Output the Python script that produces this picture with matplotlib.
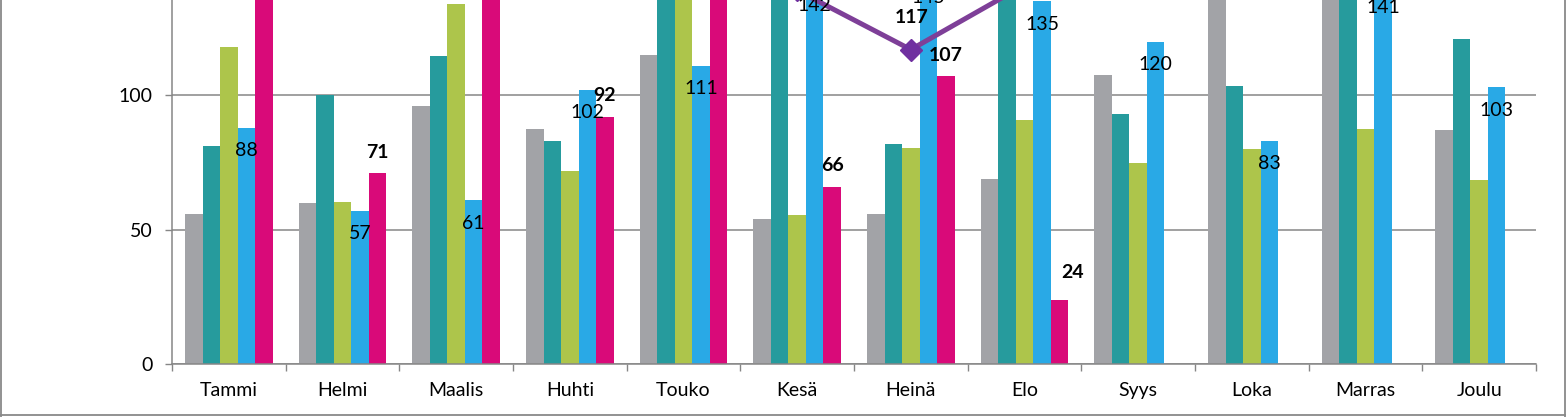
import numpy as np
import matplotlib.pyplot as plt
from matplotlib.lines import Line2D

# month names (Finnish short)
months = ["Tammi", "Helmi", "Maalis", "Huhti", "Touko", "Kesä",
          "Heinä", "Elo", "Syys", "Loka", "Marras", "Joulu"]

# five bar series (values above ~135 are cut off in the reference)
gray = [56, 60, 96, 87.5, 115, 54, 56, 69, 107.5, 150, 152, 87]
teal = [81, 100, 114.5, 83, 155, 160, 82, 150, 93, 103.5, 148, 121]
green = [118, 60.5, 134, 72, 148, 55.5, 80.5, 91, 75, 80, 87.5, 68.5]
blue = [88, 57, 61, 102, 111, 142, 145, 135, 120, 83, 141, 103]
magenta = [150, 71, 146, 92, 158, 66, 107, 24, np.nan, np.nan, np.nan, np.nan]

# line series (only the dip in Heinä is visible)
line_vals = [165, 160, 170, 165, 160, 139, 117, 141, 165, 170, 165, 160]

colors = ["#A2A3A7", "#269B9D", "#ADC54B", "#29A9E6", "#D90A79"]
grid_col = "#868686"
line_col = "#7E3F98"

plt.rcParams['font.family'] = ['Lato', 'DejaVu Sans']

W, H = 1566, 417
fig = plt.figure(figsize=(W / 100, H / 100), dpi=100)
y0 = 364.3
ax = fig.add_axes([172 / W, (H - y0) / H, (1536 - 172) / W, y0 / H])

x = np.arange(len(months))
bw = 0.1543
series = [gray, teal, green, blue, magenta]
for k, (vals, c) in enumerate(zip(series, colors)):
    ax.bar(x + (k - 2) * bw, vals, width=bw, color=c, zorder=2)

ax.plot(x, line_vals, color=line_col, lw=3.6, marker='D', ms=11,
        mfc="#7030A0", mec="#7030A0", zorder=4, clip_on=True)

ax.set_ylim(0, y0 / 2.69)
ax.set_xlim(-0.5, len(months) - 0.5)

fs = 14
# labels on blue bars (inside end)
for i, v in enumerate(blue):
    ax.annotate(f"{v:.0f}", (x[i] + bw, v), xytext=(0, -16.5), textcoords='offset points',
                ha='center', va='center', fontsize=fs, color='black', zorder=5,
                annotation_clip=False)

# labels above magenta bars (bold)
mag_offsets = {7: (9, 19.5)}
for i, v in enumerate(magenta):
    if np.isnan(v) or v > 135:
        continue
    dx, dy = mag_offsets.get(i, (0, 15))
    ax.annotate(f"{v:.0f}", (x[i] + 2 * bw, v), xytext=(dx, dy), textcoords='offset points',
                ha='center', va='center', fontsize=fs, fontweight='bold', color='black', zorder=5)

# label of the line point in Heinä
ax.annotate(f"{line_vals[6]:.0f}", (x[6], line_vals[6]), xytext=(0.5, 23), textcoords='offset points',
            ha='center', va='center', fontsize=fs, fontweight='bold', color='black', zorder=5)

# axes styling
ax.set_yticks([0, 50, 100])
ax.yaxis.grid(True, color=grid_col, lw=1.1, zorder=0)
ax.set_axisbelow(True)
ax.tick_params(axis='y', length=5, width=1, color=grid_col, labelsize=fs, pad=9)
ax.set_xticks(np.arange(-0.5, len(months)), labels=[])
ax.set_xticks(x, labels=months, minor=True)
ax.tick_params(axis='x', which='major', length=5, width=1, color=grid_col)
ax.tick_params(axis='x', which='minor', length=0, labelsize=fs, pad=13)
for s in ['top', 'right']:
    ax.spines[s].set_visible(False)
for s in ['left', 'bottom']:
    ax.spines[s].set_color(grid_col)
    ax.spines[s].set_linewidth(1.1)

# outer chart frame (left, right, bottom)
fc = "#898989"
fig.add_artist(Line2D([0.6 / W, 0.6 / W], [0, 1], color=fc, lw=1.3, transform=fig.transFigure))
fig.add_artist(Line2D([1 - 0.8 / W, 1 - 0.8 / W], [0, 1], color=fc, lw=1.3, transform=fig.transFigure))
fig.add_artist(Line2D([0, 1], [2 / H, 2 / H], color=fc, lw=1.3, transform=fig.transFigure))

fig.savefig("out.png", dpi=100)
